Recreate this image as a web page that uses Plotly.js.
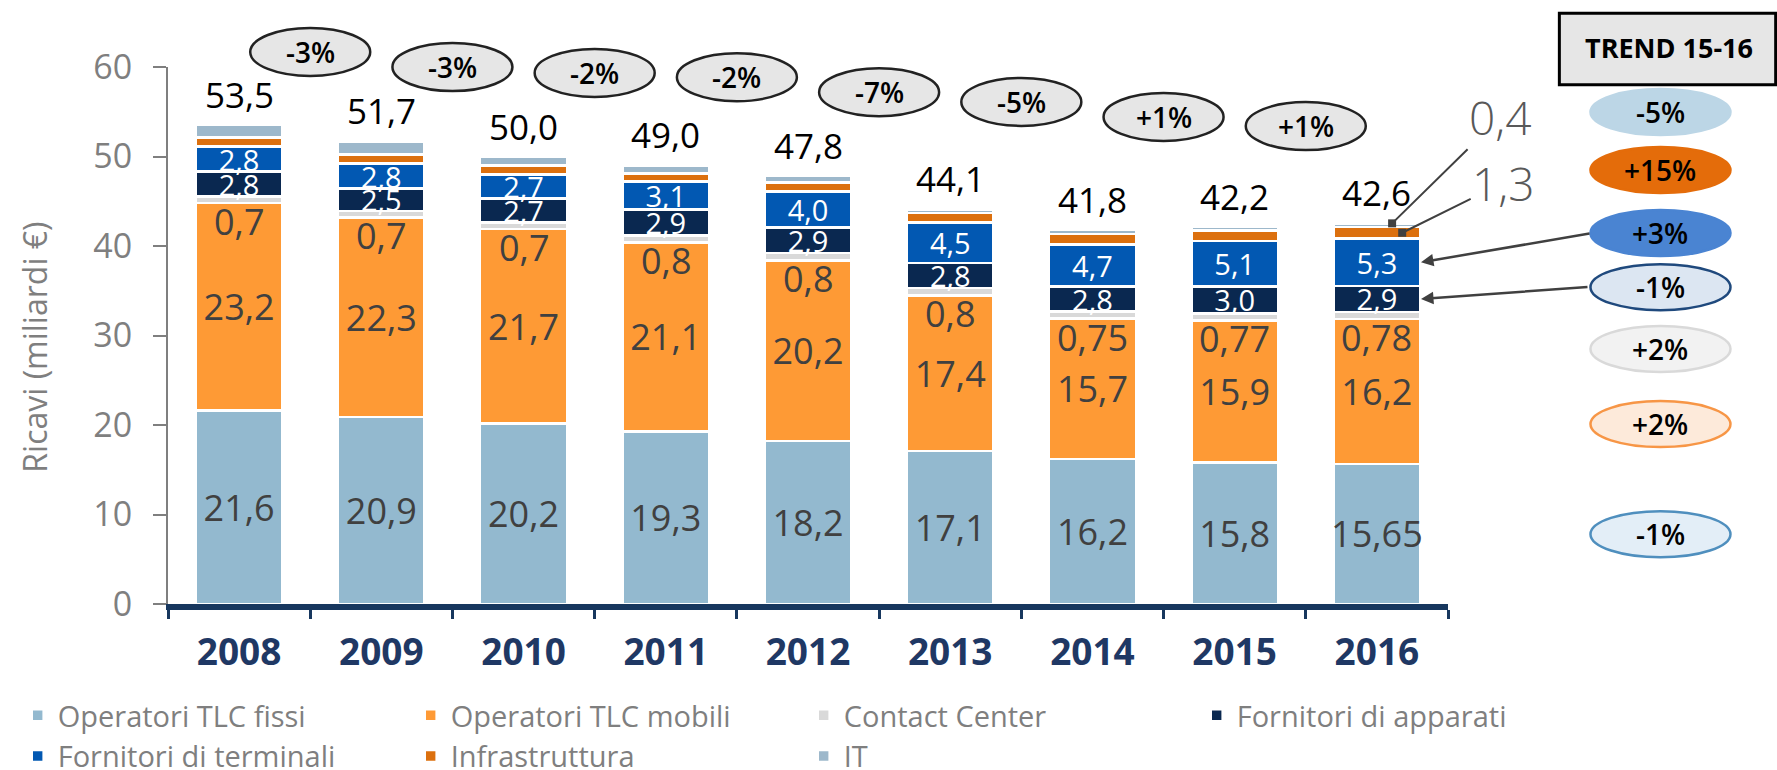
<!DOCTYPE html>
<html><head><meta charset="utf-8">
<script src="https://cdn.plot.ly/plotly-3.0.1.min.js"></script>
<style>html,body{margin:0;padding:0;background:#fff}#chart{width:1777px;height:770px}</style>
</head><body><div id="chart"></div>
<script>
// ---------- data ----------
const years = ['2008','2009','2010','2011','2012','2013','2014','2015','2016'];
const fissi     = [21.6, 20.9, 20.2, 19.3, 18.2, 17.1, 16.2, 15.8, 15.65];
const mobili    = [23.2, 22.3, 21.7, 21.1, 20.2, 17.4, 15.7, 15.9, 16.2];
const contact   = [0.7, 0.7, 0.7, 0.8, 0.8, 0.8, 0.75, 0.77, 0.78];
const apparati  = [2.8, 2.5, 2.7, 2.9, 2.9, 2.8, 2.8, 3.0, 2.9];
const terminali = [2.8, 2.8, 2.7, 3.1, 4.0, 4.5, 4.7, 5.1, 5.3];
const infra     = [1.0, 1.0, 1.0, 0.9, 1.0, 1.1, 1.2, 1.15, 1.3];
const it        = [1.4, 1.5, 1.0, 0.9, 0.7, 0.4, 0.45, 0.45, 0.4];
const totals    = [53.5, 51.7, 50.0, 49.0, 47.8, 44.1, 41.8, 42.2, 42.6];
const yoyChange = [-3, -3, -2, -2, -7, -5, 1, 1];
const trendNames  = ['IT','Infrastruttura','Fornitori di terminali','Fornitori di apparati','Contact Center','Operatori TLC mobili','Operatori TLC fissi'];
const trendChange = [-5, 15, 3, -1, 2, 2, -1];
const yTitle = 'Ricavi (miliardi €)';

// ---------- helpers ----------
function fmt(v){ let s = (Math.round(v*100)/100).toString(); if(s.indexOf('.')<0) s += '.0'; return s.replace('.', ','); }
function pct(v){ return (v>0?'+':'') + v + '%'; }
const F = 'Open Sans, Noto Sans, sans-serif';

const series = [
  {name:'Operatori TLC fissi', y:fissi, color:'#93B9CF', label:true, tc:'#404040', ts:36},
  {name:'Operatori TLC mobili', y:mobili, color:'#FE9A35', label:true, tc:'#404040', ts:36},
  {name:'Contact Center', y:contact, color:'#D9D9D9', label:false},
  {name:'Fornitori di apparati', y:apparati, color:'#0A2850', label:true, tc:'#FFFFFF', ts:29},
  {name:'Fornitori di terminali', y:terminali, color:'#0258B2', label:true, tc:'#FFFFFF', ts:29},
  {name:'Infrastruttura', y:infra, color:'#DC700E', label:false},
  {name:'IT', y:it, color:'#9DB8CB', label:false}
];

const traces = series.map(s => ({
  type:'bar', name:s.name, x:years, y:s.y,
  marker:{color:s.color, line:{color:'#FFFFFF', width:2.6}},
  text: s.label ? s.y.map(fmt) : null,
  texttemplate: s.label ? '%{text}' : null,
  textposition: s.label ? 'inside' : 'none',
  insidetextanchor:'middle', constraintext:'none', textangle:0,
  textfont:{family:F, size:s.ts||20, color:s.tc||'#404040'},
  hoverinfo:'skip'
}));

// cumulative bases
function cum(k){ return years.map((_,i)=>series.slice(0,k).reduce((a,s)=>a+s.y[i],0)); }
const baseContact = cum(2), baseApp = cum(3), baseTerm = cum(4), baseInfra = cum(5), topAll = cum(7);

const annotations = [];
const shapes = [];
// totals (category index used as x)
years.forEach((yr,i)=>annotations.push({x:i, y:topAll[i], xref:'x', yref:'y', xanchor:'center', yanchor:'bottom', yshift:5, showarrow:false,
  text:fmt(totals[i]), font:{family:F, size:35, color:'#000'}}));
// contact center labels
years.forEach((yr,i)=>annotations.push({x:i, y:baseContact[i], xref:'x', yref:'y', xanchor:'center', yanchor:'top', yshift:8, showarrow:false,
  text:fmt(contact[i]), font:{family:F, size:36, color:'#404040'}}));

// y axis title (placed as rotated annotation)
annotations.push({xref:'paper', yref:'paper', x:-0.104, y:0.479, xanchor:'center', yanchor:'middle', textangle:-90, showarrow:false,
  text:yTitle, font:{family:F, size:32, color:'#7F7F7F'}});

// year-over-year ellipses (layout positions)
const yoyPaperY = [1.028, 1.0, 0.989, 0.981, 0.953, 0.935, 0.907, 0.890];
yoyChange.forEach((v,i)=>{
  shapes.push({type:'circle', xref:'x', yref:'paper', xsizemode:'pixel', ysizemode:'pixel',
    xanchor:i+0.5, yanchor:yoyPaperY[i], x0:-60, x1:60, y0:-24, y1:24,
    fillcolor:'#E6E6E6', line:{color:'#222', width:2.5}});
  annotations.push({xref:'x', yref:'paper', x:i+0.5, y:yoyPaperY[i], xanchor:'center', yanchor:'middle', showarrow:false,
    text:pct(v), font:{family:F, size:28, color:'#000', weight:600}});
});

// TREND box
shapes.push({type:'rect', xref:'paper', yref:'paper', x0:1.087, x1:1.256, y0:0.967, y1:1.1,
  fillcolor:'#E6E6E6', line:{color:'#000', width:3}});
annotations.push({xref:'paper', yref:'paper', x:1.173, y:1.036, xanchor:'center', yanchor:'middle', showarrow:false, text:'TREND 15-16',
  font:{family:F, size:27, color:'#000', weight:700}});

// trend ellipses
const trendStyle = [
  {fill:'#BCD6E6', line:'#BCD6E6'},
  {fill:'#E46C0A', line:'#E46C0A'},
  {fill:'#4A84D2', line:'#4A84D2'},
  {fill:'#DCE6F2', line:'#1F497D'},
  {fill:'#F2F2F2', line:'#D9D9D9'},
  {fill:'#FDEADA', line:'#F79646'},
  {fill:'#E3EEF7', line:'#4F8FBE'}
];
const trendPaperY = [0.916, 0.808, 0.691, 0.590, 0.475, 0.335, 0.130];
trendChange.forEach((v,i)=>{
  shapes.push({type:'circle', xref:'paper', yref:'paper', xsizemode:'pixel', ysizemode:'pixel',
    xanchor:1.166, yanchor:trendPaperY[i], x0:-70, x1:70, y0:-23, y1:23,
    fillcolor:trendStyle[i].fill, line:{color:trendStyle[i].line, width:2.5}});
  annotations.push({xref:'paper', yref:'paper', x:1.166, y:trendPaperY[i], xanchor:'center', yanchor:'middle', showarrow:false,
    text:pct(v), font:{family:F, size:28, color:'#000', weight:600}});
});

// arrows from trend ellipses to 2016 segments
const last = years.length-1;
annotations.push({x:last+0.31, y:baseTerm[last]+terminali[last]/2, xref:'x', yref:'y', text:'', showarrow:true,
  ax:170, ay:-29, arrowhead:2, arrowsize:1, arrowwidth:2.5, arrowcolor:'#404040'});
annotations.push({x:last+0.31, y:baseApp[last]+apparati[last]/2, xref:'x', yref:'y', text:'', showarrow:true,
  ax:168, ay:-12, arrowhead:2, arrowsize:1, arrowwidth:2.5, arrowcolor:'#404040'});
// 2016 small segment labels
annotations.push({x:last+0.107, y:topAll[last], xref:'x', yref:'y', text:fmt(it[last]), showarrow:true,
  ax:108, ay:-106, arrowhead:7, arrowsize:1, arrowwidth:2, arrowcolor:'#404040',
  font:{family:F, size:46, color:'#595959', weight:300}});
annotations.push({x:last+0.178, y:baseInfra[last]+infra[last]/2, xref:'x', yref:'y', text:fmt(infra[last]), showarrow:true,
  ax:101, ay:-50, arrowhead:7, arrowsize:1, arrowwidth:2, arrowcolor:'#404040',
  font:{family:F, size:46, color:'#595959', weight:300}});

const layout = {
  width:1777, height:770,
  margin:{l:168, r:329, t:67, b:166, pad:0, autoexpand:false},
  paper_bgcolor:'#fff', plot_bgcolor:'#fff',
  barmode:'stack', bargap:0.39,
  separators:',.',
  showlegend:true,
  legend:{orientation:'h', x:1.1107, y:-0.16, xanchor:'right', yanchor:'top',
    font:{family:F, size:29, color:'#7F7F7F'}, entrywidth:348, entrywidthmode:'pixels',
    traceorder:'normal', bgcolor:'rgba(0,0,0,0)', tracegroupgap:0, itemwidth:30},
  xaxis:{type:'category', range:[-0.5, 8.5], autorange:false, showline:true, linecolor:'#17375E', linewidth:6,
    ticks:'outside', tickson:'boundaries', ticklen:9, tickwidth:3, tickcolor:'#17375E', tickangle:0,
    tickfont:{family:F, size:37, color:'#1F3864', weight:700}, ticklabelstandoff:11,
    showgrid:false, zeroline:false, fixedrange:true},
  yaxis:{range:[0,60], autorange:false, dtick:10, showline:true, linecolor:'#7F7F7F', linewidth:2,
    ticks:'outside', ticklen:13, tickwidth:2, tickcolor:'#7F7F7F',
    tickfont:{family:F, size:34, color:'#7F7F7F'}, ticklabelstandoff:14,
    showgrid:false, zeroline:false, fixedrange:true},
  annotations:annotations, shapes:shapes
};

Plotly.newPlot('chart', traces, layout, {staticPlot:true, displayModeBar:false});
</script>
</body></html>
